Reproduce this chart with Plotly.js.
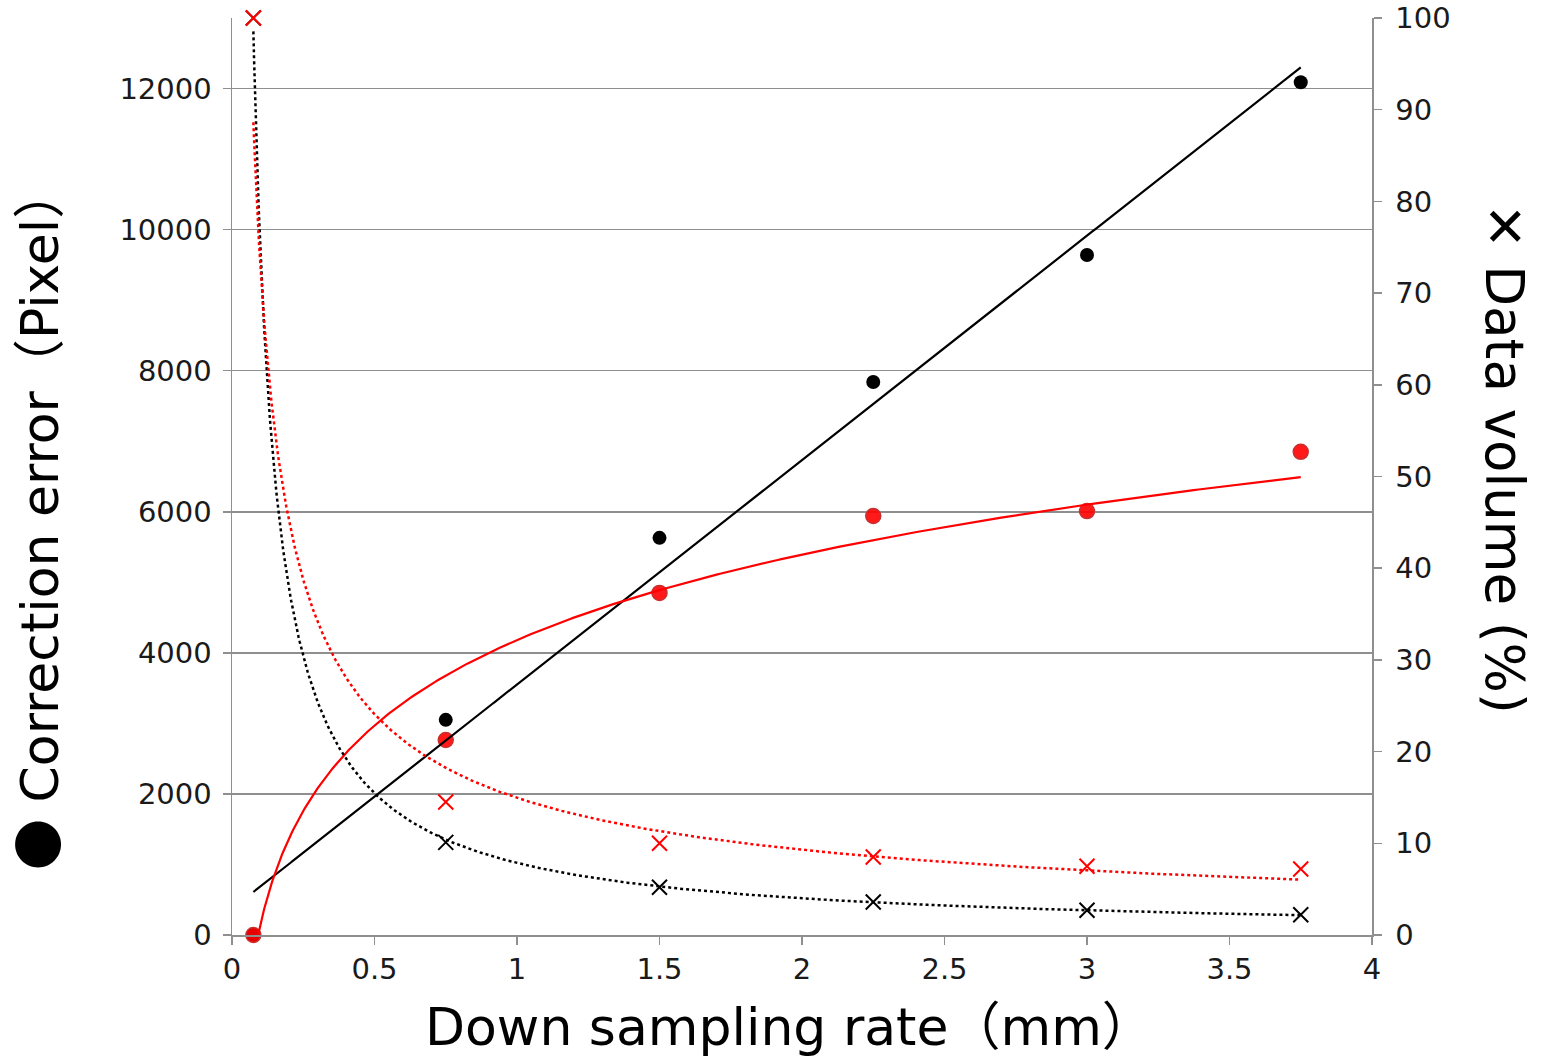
<!DOCTYPE html>
<html>
<head>
<meta charset="utf-8">
<script src="https://cdn.plot.ly/plotly-3.0.1.min.js"></script>
<style>html,body{margin:0;padding:0;background:#fff;}#chart{width:1541px;height:1059px;}</style>
</head>
<body>
<div id="chart"></div>
<script>
// ---- data ----
const samplingRate = [0.075, 0.75, 1.5, 2.25, 3, 3.75];          // mm
const errorBlack   = [0, 3050, 5630, 7840, 9640, 12090];           // Correction error (pixel), black circles
const errorRed     = [0, 2765, 4850, 5940, 6010, 6850];            // Correction error (pixel), red circles
const volumeBlack  = [100, 10.1, 5.2, 3.6, 2.7, 2.2];              // Data volume (%), black crosses
const volumeRed    = [100, 14.5, 10.0, 8.5, 7.5, 7.2];             // Data volume (%), red crosses
const xTicks = [0, 0.5, 1, 1.5, 2, 2.5, 3, 3.5, 4];
const xTickText = ['0', '0.5', '1', '1.5', '2', '2.5', '3', '3.5', '4'];
const yTicks = [0, 2000, 4000, 6000, 8000, 10000, 12000];
const yTickText = ['0', '2000', '4000', '6000', '8000', '10000', '12000'];
const y2Ticks = [0, 10, 20, 30, 40, 50, 60, 70, 80, 90, 100];
const y2TickText = ['0', '10', '20', '30', '40', '50', '60', '70', '80', '90', '100'];

// ---- least-squares trendlines (as in the source spreadsheet) ----
function linFit(x, y) {
  const n = x.length, mx = x.reduce((a,b)=>a+b)/n, my = y.reduce((a,b)=>a+b)/n;
  let sxy = 0, sxx = 0;
  for (let i = 0; i < n; i++) { sxy += (x[i]-mx)*(y[i]-my); sxx += (x[i]-mx)*(x[i]-mx); }
  const m = sxy/sxx; return {m: m, c: my - m*mx};
}
const lin = linFit(samplingRate, errorBlack);
const logF = linFit(samplingRate.map(Math.log), errorRed);
const powB = linFit(samplingRate.map(Math.log), volumeBlack.map(Math.log));
const powR = linFit(samplingRate.map(Math.log), volumeRed.map(Math.log));
const xs = [];
const x0 = samplingRate[0], x1 = samplingRate[samplingRate.length-1];
for (let i = 0; i <= 400; i++) xs.push(x0 + (x1-x0)*Math.pow(i/400, 2));

const FONT = '"DejaVu Sans", "Noto Sans CJK JP", sans-serif';
const GRAY = '#8f8f8f';

const traces = [
  {x: samplingRate, y: errorBlack, mode: 'markers', type: 'scatter', cliponaxis: false,
   marker: {color: '#000', size: 14, symbol: 'circle'}},
  {x: samplingRate, y: errorRed, mode: 'markers', type: 'scatter', cliponaxis: false,
   marker: {color: 'rgba(255,0,0,0.9)', size: 15, symbol: 'circle', line: {color: '#c83030', width: 1.5}}},
  {x: xs, y: xs.map(v => lin.m*v + lin.c), mode: 'lines', type: 'scatter',
   line: {color: '#000', width: 2.2}},
  {x: xs, y: xs.map(v => logF.m*Math.log(v) + logF.c), mode: 'lines', type: 'scatter',
   line: {color: '#ff0000', width: 2.2}},
  {x: xs, y: xs.map(v => Math.exp(powB.c)*Math.pow(v, powB.m)), yaxis: 'y2', mode: 'lines', type: 'scatter',
   line: {color: '#000', width: 2.5, dash: 'dot'}},
  {x: xs, y: xs.map(v => Math.exp(powR.c)*Math.pow(v, powR.m)), yaxis: 'y2', mode: 'lines', type: 'scatter',
   line: {color: '#ff0000', width: 2.5, dash: 'dot'}},
  {x: samplingRate, y: volumeBlack, yaxis: 'y2', mode: 'markers', type: 'scatter', cliponaxis: false,
   marker: {color: '#000', size: 15, symbol: 'x-thin-open', line: {color: '#000', width: 2}}},
  {x: samplingRate, y: volumeRed, yaxis: 'y2', mode: 'markers', type: 'scatter', cliponaxis: false,
   marker: {color: '#ff0000', size: 15, symbol: 'x-thin-open', line: {color: '#ff0000', width: 2}}}
];

const layout = {
  width: 1541, height: 1059,
  margin: {l: 232, r: 169, t: 18, b: 124},
  paper_bgcolor: '#fff', plot_bgcolor: '#fff',
  showlegend: false,
  font: {family: FONT, color: '#111', size: 29},
  xaxis: {
    range: [0, 4], tickvals: xTicks, ticktext: xTickText,
    showgrid: false, zeroline: false, showline: true, linecolor: GRAY, linewidth: 1.5,
    ticks: 'outside', ticklen: 8, tickcolor: GRAY, tickwidth: 1.5,
    tickfont: {family: FONT, size: 29, color: '#1a1a1a'}, ticklabelstandoff: 0
  },
  yaxis: {
    range: [0, 13000], tickvals: yTicks, ticktext: yTickText,
    showgrid: true, gridcolor: GRAY, gridwidth: 1.5, zeroline: false,
    showline: true, linecolor: GRAY, linewidth: 1.5,
    ticks: 'outside', ticklen: 8, tickcolor: GRAY, tickwidth: 1.5,
    tickfont: {family: FONT, size: 29, color: '#1a1a1a'}, ticklabelstandoff: 5
  },
  yaxis2: {
    range: [0, 100], tickvals: y2Ticks, ticktext: y2TickText, overlaying: 'y', side: 'right',
    showgrid: false, zeroline: false, showline: true, linecolor: GRAY, linewidth: 1.5,
    ticks: 'outside', ticklen: 8, tickcolor: GRAY, tickwidth: 1.5,
    tickfont: {family: FONT, size: 29, color: '#1a1a1a'}, ticklabelstandoff: 8
  },
  annotations: [
    {text: 'Down sampling rate（mm）', xref: 'paper', yref: 'paper', x: 0.489, y: -0.1,
     xanchor: 'center', yanchor: 'middle', showarrow: false,
     font: {family: FONT, size: 52, color: '#000'}},
    {text: '<span style="font-family:\'Noto Sans CJK JP\';font-size:51px">●</span> Correction error（Pixel）',
     xref: 'paper', yref: 'paper', x: -0.1725, y: 0.454,
     xanchor: 'center', yanchor: 'middle', textangle: -90, showarrow: false,
     font: {family: FONT, size: 52, color: '#000'}},
    {text: '<b>✕</b> Data volume (%)', xref: 'paper', yref: 'paper', x: 1.1167, y: 0.519,
     xanchor: 'center', yanchor: 'middle', textangle: 90, showarrow: false,
     font: {family: FONT, size: 53, color: '#000'}}
  ]
};

Plotly.newPlot('chart', traces, layout, {displayModeBar: false, staticPlot: true});
</script>
</body>
</html>
